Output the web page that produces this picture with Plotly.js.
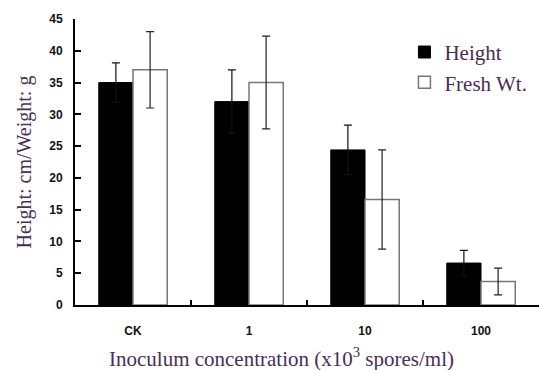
<!DOCTYPE html>
<html>
<head>
<meta charset="utf-8">
<script src="https://cdn.plot.ly/plotly-3.0.1.min.js"></script>
<style>html,body{margin:0;padding:0;background:#fff;}#chart{width:541px;height:370px;}</style>
</head>
<body>
<div id="chart"></div>
<script>
const categories = ["CK", "1", "10", "100"];
const heightValues = [35, 32, 24.4, 6.6];
const heightErrors = [3.1, 5.0, 3.9, 2.0];
const freshValues = [37, 35, 16.6, 3.7];
const freshErrors = [6.0, 7.3, 7.8, 2.1];
const seriesNames = ["Height", "Fresh Wt."];
const xTitle = "Inoculum concentration (x10<sup>3</sup> spores/ml)";
const yTitle = "Height: cm/Weight: g";

const textColor = "#4b2d55";
const serif = "'Liberation Serif', 'Times New Roman', serif";
const sans = "'Liberation Sans', Arial, sans-serif";

const traces = [
  {
    type: "bar", name: seriesNames[0], x: categories, y: heightValues,
    marker: {color: "#000000", line: {color: "#000000", width: 1}},
    error_y: {type: "data", array: heightErrors, visible: true, color: "#111", thickness: 1.2, width: 4}
  },
  {
    type: "bar", name: seriesNames[1], x: categories, y: freshValues,
    marker: {color: "#ffffff", line: {color: "#777777", width: 1.5}},
    error_y: {type: "data", array: freshErrors, visible: true, color: "#222", thickness: 1.2, width: 4}
  }
];

const layout = {
  width: 541, height: 370,
  margin: {l: 75, r: 2, t: 19, b: 65},
  paper_bgcolor: "#fff", plot_bgcolor: "#fff",
  barmode: "group", bargap: 0.41, bargroupgap: 0,
  showlegend: true,
  legend: {
    x: 0.71, y: 0.955, xanchor: "left", yanchor: "top",
    font: {family: serif, size: 21, color: textColor},
    bgcolor: "rgba(0,0,0,0)", itemwidth: 30, tracegroupgap: 0
  },
  xaxis: {
    type: "category", range: [-0.5, 3.5],
    showline: true, linecolor: "#000", linewidth: 2,
    ticks: "inside", tickson: "boundaries", ticklen: 5, tickwidth: 2, tickcolor: "#000",
    showgrid: false, zeroline: false, ticklabelstandoff: 14,
    tickfont: {family: sans, size: 12, color: "#111", weight: "bold"}
  },
  yaxis: {
    range: [0, 45], dtick: 5,
    showline: true, linecolor: "#000", linewidth: 2,
    ticks: "inside", ticklen: 6, tickwidth: 2, tickcolor: "#000",
    showgrid: false, zeroline: false, ticklabelstandoff: 8,
    tickfont: {family: sans, size: 12, color: "#111", weight: "bold"},
    title: {text: yTitle, standoff: 12, font: {family: serif, size: 20, color: textColor}}
  },
  annotations: [
    {text: xTitle, xref: "paper", yref: "paper", x: 0.444, y: -0.182,
     xanchor: "center", yanchor: "middle", showarrow: false,
     font: {family: serif, size: 21, color: textColor}}
  ]
};

Plotly.newPlot("chart", traces, layout, {displayModeBar: false, staticPlot: true});
</script>
</body>
</html>
